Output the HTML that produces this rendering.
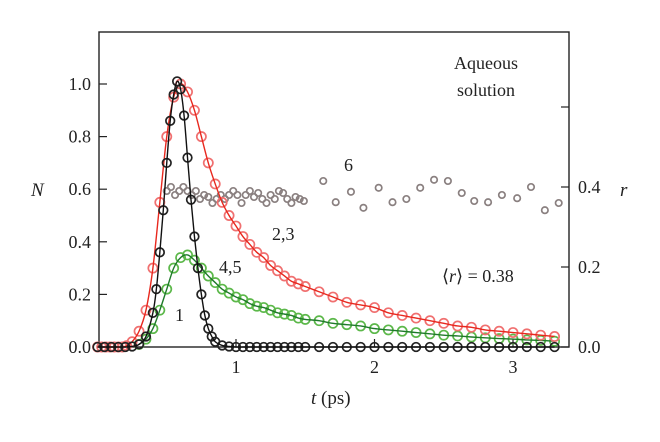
<!DOCTYPE html>
<html><head><meta charset="utf-8"><style>
html,body{margin:0;padding:0;background:#fff;}
svg{display:block;font-family:"Liberation Serif",serif;}
</style></head><body>
<svg id="chart" width="660" height="442" viewBox="0 0 660 442"></svg>
<script>
// ---- data ----
const blackT = [0,0.05,0.1,0.15,0.2,0.25,0.3,0.35,0.4,0.425,0.45,0.475,0.5,0.525,0.55,0.575,0.6,0.625,0.65,0.675,0.7,0.725,0.75,0.775,0.8,0.825,0.85,0.9,0.95,1.0,1.05,1.1,1.15,1.2,1.25,1.3,1.35,1.4,1.45,1.5,1.6,1.7,1.8,1.9,2.0,2.1,2.2,2.3,2.4,2.5,2.6,2.7,2.8,2.9,3.0,3.1,3.2,3.3];
const blackN = [0,0,0,0,0,0.002,0.01,0.04,0.13,0.22,0.36,0.52,0.7,0.86,0.96,1.01,0.98,0.88,0.72,0.56,0.42,0.3,0.2,0.12,0.07,0.04,0.02,0.006,0.002,0,0,0,0,0,0,0,0,0,0,0,0,0,0,0,0,0,0,0,0,0,0,0,0,0,0,0,0,0];
const redT = [0,0.03,0.06,0.09,0.12,0.15,0.18,0.21,0.25,0.3,0.35,0.4,0.45,0.5,0.55,0.6,0.65,0.7,0.75,0.8,0.85,0.9,0.95,1.0,1.05,1.1,1.15,1.2,1.25,1.3,1.35,1.4,1.45,1.5,1.6,1.7,1.8,1.9,2.0,2.1,2.2,2.3,2.4,2.5,2.6,2.7,2.8,2.9,3.0,3.1,3.2,3.3];
const redN = [0,0,0,0,0,0,0,0.005,0.02,0.06,0.14,0.3,0.55,0.8,0.95,1.0,0.97,0.9,0.8,0.7,0.62,0.55,0.5,0.46,0.42,0.39,0.36,0.34,0.31,0.29,0.27,0.25,0.24,0.23,0.21,0.19,0.17,0.16,0.15,0.13,0.12,0.11,0.1,0.09,0.08,0.075,0.065,0.06,0.055,0.05,0.045,0.04];
const greenT = [0.3,0.35,0.4,0.45,0.5,0.55,0.6,0.65,0.7,0.75,0.8,0.85,0.9,0.95,1.0,1.05,1.1,1.15,1.2,1.25,1.3,1.35,1.4,1.45,1.5,1.6,1.7,1.8,1.9,2.0,2.1,2.2,2.3,2.4,2.5,2.6,2.7,2.8,2.9,3.0,3.1,3.2,3.3];
const greenN = [0.01,0.03,0.07,0.14,0.22,0.3,0.34,0.35,0.33,0.3,0.27,0.245,0.22,0.205,0.19,0.18,0.165,0.155,0.15,0.14,0.13,0.125,0.12,0.11,0.105,0.1,0.09,0.085,0.08,0.07,0.065,0.06,0.055,0.05,0.045,0.042,0.038,0.035,0.032,0.03,0.027,0.025,0.022];
const grayT = [0.5,0.53,0.56,0.59,0.62,0.65,0.68,0.71,0.74,0.77,0.8,0.83,0.86,0.89,0.92,0.95,0.98,1.01,1.04,1.07,1.1,1.13,1.16,1.19,1.22,1.25,1.28,1.31,1.34,1.37,1.4,1.43,1.46,1.49,1.63,1.72,1.83,1.92,2.03,2.13,2.23,2.33,2.43,2.53,2.63,2.72,2.82,2.92,3.03,3.13,3.23,3.33];
const grayR = [0.39,0.4,0.38,0.39,0.4,0.39,0.38,0.39,0.37,0.38,0.375,0.36,0.37,0.38,0.37,0.38,0.39,0.38,0.36,0.38,0.39,0.375,0.385,0.37,0.36,0.38,0.37,0.39,0.385,0.37,0.36,0.375,0.37,0.365,0.415,0.362,0.388,0.348,0.398,0.362,0.37,0.398,0.418,0.415,0.385,0.365,0.362,0.38,0.372,0.4,0.342,0.36];
const xTicks = [1,2,3];
const yTicks = [0,0.2,0.4,0.6,0.8,1.0];
const rTicks = [0,0.2,0.4,0.6];
const rTickLabels = ["0.0","0.2","0.4",""];

// ---- axes ----
const X0=97.5, XS=138.5, YB=347, YS=263, RS=400;
const xs = t => X0 + t*XS;
const ys = n => YB - n*YS;
const yr = r => YB - r*RS;
const svg = document.getElementById('chart');
const NS='http://www.w3.org/2000/svg';
function mk(tag, attrs, parent){const e=document.createElementNS(NS,tag);for(const k in attrs)e.setAttribute(k,attrs[k]);(parent||svg).appendChild(e);return e;}

const frame = mk('rect',{x:99,y:32,width:470,height:315,fill:'none',stroke:'#222','stroke-width':1.4});



yTicks.forEach(v=>{
  const y=ys(v);
  const t=mk('line',{x1:99,x2:107,y1:y,y2:y,stroke:'#222','stroke-width':1.2});
  
  
  const l=mk('text',{x:91,y:y+6,'text-anchor':'end','font-size':18,fill:'#222'});
  l.textContent=v.toFixed(1);
  
  
});
rTicks.forEach((v,i)=>{
  const y=yr(v);
  const t=mk('line',{x1:561,x2:569,y1:y,y2:y,stroke:'#222','stroke-width':1.2});
  
  
  const l=mk('text',{x:578,y:y+6,'font-size':18,fill:'#222'});
  l.textContent=rTickLabels[i];
  
  
});
xTicks.forEach(v=>{
  const x=xs(v);
  const t=mk('line',{x1:x,x2:x,y1:347,y2:339,stroke:'#222','stroke-width':1.2});
  
  
  const l=mk('text',{x:x,y:373,'text-anchor':'middle','font-size':18,fill:'#222'});
  l.textContent=String(v);
  
  
});

function smoothPath(T,V,fy){
  const p=T.map((t,i)=>[xs(t),fy(V[i])]);
  let d='M'+p[0][0]+','+p[0][1];
  for(let i=0;i<p.length-1;i++){
    const p0=p[Math.max(0,i-1)],p1=p[i],p2=p[i+1],p3=p[Math.min(p.length-1,i+2)];
    const c1=[p1[0]+(p2[0]-p0[0])/6,p1[1]+(p2[1]-p0[1])/6];
    const c2=[p2[0]-(p3[0]-p1[0])/6,p2[1]-(p3[1]-p1[1])/6];
    d+=' C'+c1[0]+','+c1[1]+' '+c2[0]+','+c2[1]+' '+p2[0]+','+p2[1];
  }
  return d;
}
function series(T,V,fy,stroke,lineColor,r,name){
  const g=mk('g',{});
  
  
  T.forEach((t,i)=>{
    const c=mk('circle',{cx:xs(t),cy:fy(V[i]),r:r,fill:'none',stroke:stroke,'stroke-width':1.7},g);
    
    
  });
  if(lineColor){
    const p=mk('path',{d:smoothPath(T,V,fy),fill:'none',stroke:lineColor,'stroke-width':1.4},g);
    
    
  }
}
series(grayT,grayR,yr,'#8a8080',null,3.2,'series-6-anisotropy');
series(greenT,greenN,ys,'#5cb84a','#1f7a2a',4.6,'series-4-5');
series(redT,redN,ys,'#f07070','#e8281e',4.6,'series-2-3');
series(blackT,blackN,ys,'#222',  '#111',4.3,'series-1');

function txt(x,y,s,size,name,extra){
  const t=mk('text',Object.assign({x:x,y:y,'font-size':size,fill:'#222'},extra||{}));
  t.textContent=s;
  
  
  return t;
}
txt(31,196,'N',19,'y-axis-title',{'font-style':'italic'});
txt(620,196,'r',19,'r-axis-title',{'font-style':'italic'});
const xt=txt(311,404,'',19,'x-axis-title');
xt.innerHTML='<tspan font-style="italic">t</tspan> (ps)';
txt(486,69,'Aqueous',18,'annotation-aqueous',{'text-anchor':'middle'});
txt(486,96,'solution',18,'annotation-solution',{'text-anchor':'middle'});
txt(344,171,'6',18,'label-6');
txt(272,240,'2,3',18,'label-2-3');
txt(219,273,'4,5',18,'label-4-5');
txt(175,321,'1',18,'label-1');
const rl=txt(442,282,'',18,'mean-r-label');
rl.innerHTML='⟨<tspan font-style="italic">r</tspan>⟩ = 0.38';
</script>
</body></html>
